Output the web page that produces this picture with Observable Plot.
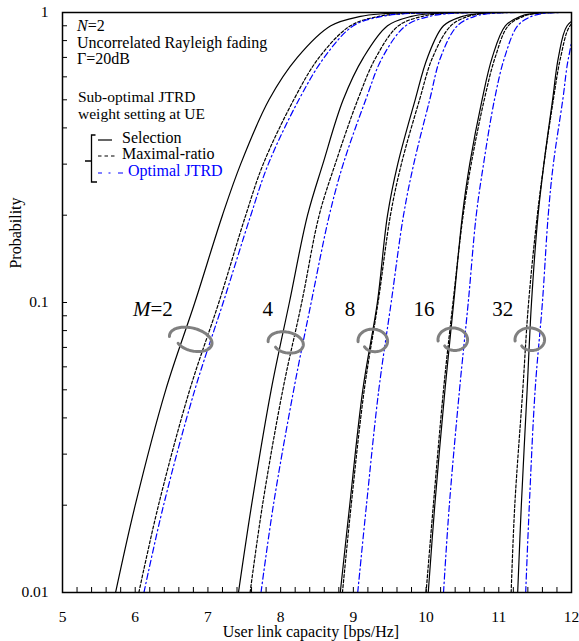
<!DOCTYPE html>
<html><head><meta charset="utf-8">
<script src="https://cdn.jsdelivr.net/npm/d3@7"></script>
<script src="https://cdn.jsdelivr.net/npm/@observablehq/plot@0.6"></script>
<style>body{margin:0;background:#fff;} #chart{position:relative;width:579px;height:641px;}</style>
</head><body><div id="chart"></div>
<script>
// ---- data ----
const probs = [0.01,0.02,0.05,0.1,0.2,0.3,0.5,0.7,0.9,0.97,0.99,0.999,1];
const Ms = [2,4,8,16,32];
const schemes = ["Selection","Maximal-ratio","Optimal JTRD"];
const sel_M2 = [5.73,6.00,6.42,6.82,7.20,7.45,7.84,8.23,8.69,9.10,9.40,9.85,10.30];
const mrc_M2 = [6.05,6.32,6.75,7.15,7.52,7.76,8.18,8.53,8.96,9.35,9.65,10.10,10.50];
const opt_M2 = [6.12,6.39,6.82,7.21,7.59,7.83,8.25,8.60,9.00,9.40,9.70,10.15,10.55];
const sel_M4 = [7.42,7.60,7.87,8.12,8.37,8.58,8.86,9.14,9.47,9.80,10.05,10.40,10.80];
const mrc_M4 = [7.58,7.75,8.03,8.29,8.53,8.75,9.06,9.31,9.62,9.95,10.18,10.50,10.90];
const opt_M4 = [7.73,7.90,8.18,8.42,8.67,8.86,9.17,9.40,9.72,10.05,10.28,10.60,11.00];
const sel_M8 = [8.82,8.95,9.13,9.33,9.47,9.61,9.85,10.02,10.24,10.50,10.70,10.95,11.30];
const mrc_M8 = [8.85,8.97,9.15,9.34,9.51,9.66,9.91,10.09,10.34,10.58,10.77,11.02,11.35];
const opt_M8 = [9.06,9.18,9.35,9.52,9.69,9.83,10.05,10.20,10.43,10.67,10.85,11.10,11.45];
const sel_M16 = [10.03,10.12,10.26,10.38,10.50,10.60,10.77,10.91,11.09,11.30,11.45,11.65,11.95];
const mrc_M16 = [10.00,10.10,10.24,10.37,10.51,10.62,10.80,10.95,11.13,11.34,11.48,11.68,12.00];
const opt_M16 = [10.24,10.32,10.46,10.58,10.69,10.79,10.94,11.08,11.26,11.45,11.58,11.78,12.10];
const sel_M32 = [11.26,11.31,11.39,11.45,11.54,11.62,11.74,11.82,11.94,12.12,12.25,12.45,12.80];
const mrc_M32 = [11.17,11.22,11.33,11.41,11.53,11.62,11.75,11.85,11.98,12.15,12.28,12.48,12.80];
const opt_M32 = [11.37,11.42,11.50,11.60,11.68,11.75,11.88,11.96,12.08,12.25,12.38,12.58,12.90];
const xTickLabels = [5,6,7,8,9,10,11,12];
const yTickLabels = [0.01,0.1,1];
// annotation anchors (data coords)
const groupLabels = ["2","4","8","16","32"];
const labelX = [6.25,7.83,8.96,9.98,11.06];
const labelY = 0.0895;
const ringX = [6.774,8.08,9.277,10.377,11.436];
const ringY = [0.074,0.0722,0.0733,0.074,0.074];

const series = {
  "Selection": [sel_M2,sel_M4,sel_M8,sel_M16,sel_M32],
  "Maximal-ratio": [mrc_M2,mrc_M4,mrc_M8,mrc_M16,mrc_M32],
  "Optimal JTRD": [opt_M2,opt_M4,opt_M8,opt_M16,opt_M32]
};
const rows = [];
for (const s of schemes) series[s].forEach((arr, j) => arr.forEach((c, i) => rows.push({scheme: s, M: Ms[j], p: probs[i], c})));

const W = 579, H = 641, mL = 62, mR = 8, mT = 12, mB = 49;
const pw = W - mL - mR, ph = H - mT - mB;
const xMinor = d3.range(0, 36).map(i => +(5 + i * 0.2).toFixed(1));
const yMinor = [];
for (const d of [0.01, 0.1]) for (let k = 1; k <= 9; k++) yMinor.push(+(d * k).toFixed(3));
yMinor.push(1);

const font = "'Liberation Serif', 'Times New Roman', serif";
const lineOpts = {x: "c", y: "p", z: "M", curve: "catmull-rom", clip: true, strokeWidth: 1.2};

const plot = Plot.plot({
  width: W, height: H,
  marginLeft: mL, marginRight: mR, marginTop: mT, marginBottom: mB,
  style: {fontFamily: font, fontSize: "15px", background: "#fff", color: "#000", overflow: "visible"},
  x: {domain: [5, 12]},
  y: {type: "log", domain: [0.01, 1]},
  marks: [
    Plot.axisX({ticks: xTickLabels, tickSize: 0, tickPadding: 18, tickFormat: d => String(d), label: null, fontSize: 15.5}),
    Plot.axisY({ticks: yTickLabels, tickSize: 0, tickPadding: 14, tickFormat: d => String(d), label: null, fontSize: 15.5}),
    Plot.tickX(xMinor, {x: d => d, insetTop: ph - 5, stroke: "#000", strokeWidth: 1}),
    Plot.tickY(yMinor, {y: d => d, insetRight: pw - 5, stroke: "#000", strokeWidth: 1}),
    Plot.line(rows.filter(d => d.scheme === "Selection"), {...lineOpts, stroke: "#000"}),
    Plot.line(rows.filter(d => d.scheme === "Maximal-ratio"), {...lineOpts, stroke: "#000", strokeDasharray: "3,2"}),
    Plot.line(rows.filter(d => d.scheme === "Optimal JTRD"), {...lineOpts, stroke: "#0000ff", strokeDasharray: "6,3,1.5,3"}),
    Plot.frame({stroke: "#000", strokeWidth: 1.5})
  ]
});
document.getElementById("chart").appendChild(plot);

const sx = plot.scale("x"), sy = plot.scale("y");
const svg = d3.select(plot);
const g = svg.append("g").attr("font-family", font).attr("fill", "#000").attr("text-anchor", "start");
const fs = 16;

// axis titles
g.append("text").attr("x", 311).attr("y", 637).attr("text-anchor", "middle").attr("font-size", fs).text("User link capacity [bps/Hz]");
g.append("text").attr("transform", "translate(21,233) rotate(-90)").attr("text-anchor", "middle").attr("font-size", fs).text("Probability");

// info text
const t1 = g.append("text").attr("x", 77).attr("y", 31).attr("font-size", fs);
t1.append("tspan").attr("font-style", "italic").text("N");
t1.append("tspan").text("=2");
g.append("text").attr("x", 77).attr("y", 47.5).attr("font-size", fs).text("Uncorrelated Rayleigh fading");
g.append("text").attr("x", 77).attr("y", 64).attr("font-size", fs).text("Γ=20dB");
g.append("text").attr("x", 78).attr("y", 101.5).attr("font-size", 15.5).text("Sub-optimal JTRD");
g.append("text").attr("x", 78).attr("y", 118.5).attr("font-size", 15.5).text("weight setting at UE");

// legend
g.append("line").attr("x1", 98).attr("x2", 112).attr("y1", 140).attr("y2", 140).attr("stroke", "#000").attr("stroke-width", 1.2);
g.append("line").attr("x1", 98).attr("x2", 115).attr("y1", 156).attr("y2", 156).attr("stroke", "#000").attr("stroke-width", 1.2).attr("stroke-dasharray", "3.5,3");
g.append("path").attr("d", "M98,173H102M108.5,173H110.5M118,173H123").attr("stroke", "#0000ff").attr("stroke-width", 1.2).attr("fill", "none");
g.append("path").attr("d", "M95.5,135H91.5V182H97M85,161H91.5").attr("stroke", "#000").attr("stroke-width", 1.3).attr("fill", "none");
g.append("text").attr("x", 122).attr("y", 143).attr("font-size", fs).text("Selection");
g.append("text").attr("x", 122).attr("y", 159).attr("font-size", fs).text("Maximal-ratio");
g.append("text").attr("x", 128).attr("y", 176).attr("font-size", fs).attr("fill", "#0000ff").text("Optimal JTRD");

// group labels
groupLabels.forEach((lab, i) => {
  const t = g.append("text").attr("x", sx.apply(labelX[i])).attr("y", sy.apply(labelY)).attr("text-anchor", "middle").attr("font-size", 21);
  if (i === 0) { t.append("tspan").attr("font-style", "italic").text("M"); t.append("tspan").text("=" + lab); }
  else t.text(lab);
});

// rings
const ringSize = [[22, 12, 14], [18, 11, 10], [15, 12, 5], [15, 12, 3], [15, 12, 3]];
ringX.forEach((cx, i) => {
  const [a, b, rot] = ringSize[i];
  const pts = [];
  for (let k = 0; k <= 90; k++) {
    const s = k / 100;
    const t = Math.PI * 1.05 - 2 * Math.PI * s;
    const f = 1 - 0.25 * Math.pow(s / 0.9, 4);
    pts.push([a * f * Math.cos(t), -b * f * Math.sin(t)]);
  }
  g.append("path").attr("d", d3.line()(pts))
    .attr("transform", `translate(${sx.apply(cx)},${sy.apply(ringY[i])}) rotate(${rot})`)
    .attr("fill", "none").attr("stroke", "#808080").attr("stroke-width", 3).attr("stroke-linecap", "round");
});
</script></body></html>
